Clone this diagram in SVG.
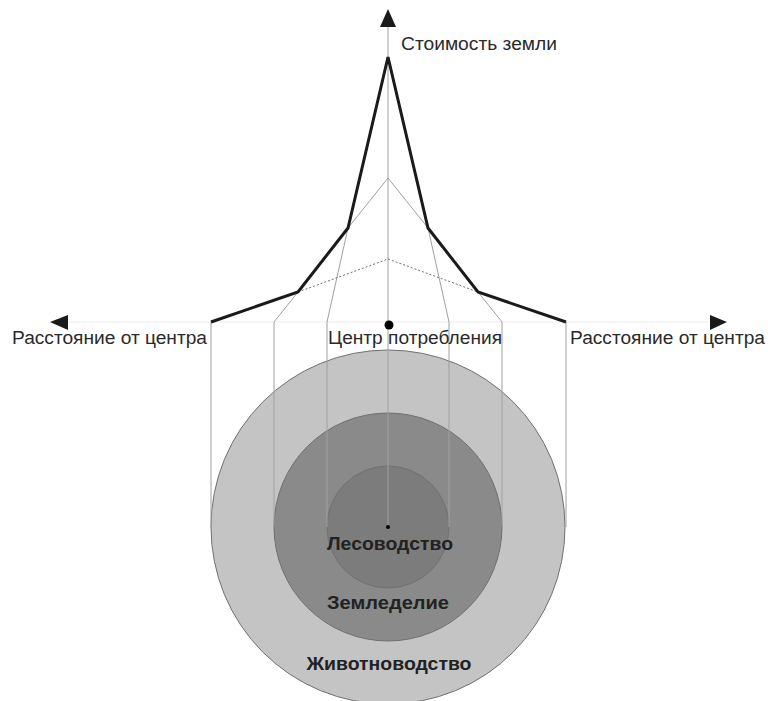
<svg xmlns="http://www.w3.org/2000/svg" width="768" height="701" viewBox="0 0 768 701">
<style>
.thin{fill:none;stroke:#a0a0a0;stroke-width:1}
.dash{fill:none;stroke:#707070;stroke-width:1;stroke-dasharray:2,2}
.bold{fill:none;stroke:#1a1a1a;stroke-width:3;stroke-linejoin:miter}
.circ{stroke:#707070;stroke-width:1}
.lbl{font-family:"Liberation Sans",Arial,sans-serif;font-size:18px;fill:#2a2a2a}
.zone{font-family:"Liberation Sans",Arial,sans-serif;font-size:18px;font-weight:bold;fill:#222;text-anchor:middle}
.arr{fill:#1a1a1a}
</style>
<rect width="768" height="701" fill="#fff"/>
<g id="outer-zone"><circle class="circ" cx="388" cy="527" r="177" fill="#c4c4c4"/></g>
<g id="middle-zone"><circle class="circ" cx="388" cy="527" r="114" fill="#8a8a8a"/></g>
<g id="inner-zone"><circle class="circ" cx="388" cy="527" r="61" fill="#7c7c7c"/></g>
<g id="connectors">
<line x1="68" y1="322" x2="710" y2="322" stroke="#ececec" stroke-width="1"/>
<line x1="388" y1="24" x2="388" y2="527" class="thin" stroke="#888"/>
<polyline class="thin" points="211,527 211,322"/>
<polyline class="thin" points="566,527 566,322"/>
<polyline class="thin" points="274,527 274,322 298,292"/>
<polyline class="thin" points="502,527 502,322 478,292"/>
<polyline class="thin" points="327,527 327,322 348,228 388,178 428,228 449,322 449,527"/>
<polyline class="dash" points="298,292 388,259 478,292"/>
<polyline class="bold" points="211,322 298,292 348,228 388,57 428,228 478,292 566,322"/>
<polygon class="arr" points="388,9 380,27 396,27"/>
<polygon class="arr" points="50,322 68,315 68,330"/>
<polygon class="arr" points="727,322 710,315 710,330"/>
<circle cx="389" cy="325" r="4.5" fill="#000"/>
<circle cx="388" cy="527" r="2" fill="#000"/>
</g>
<g id="labels">
<text class="lbl" x="401" y="50" textLength="156" lengthAdjust="spacingAndGlyphs">Стоимость земли</text>
<text class="lbl" x="12" y="344" textLength="195" lengthAdjust="spacingAndGlyphs">Расстояние от центра</text>
<text class="lbl" x="570" y="344" textLength="195" lengthAdjust="spacingAndGlyphs">Расстояние от центра</text>
<text class="lbl" x="328" y="344" textLength="174" lengthAdjust="spacingAndGlyphs">Центр потребления</text>
<text class="zone" x="390" y="550" textLength="126" lengthAdjust="spacingAndGlyphs">Лесоводство</text>
<text class="zone" x="388" y="609" textLength="122" lengthAdjust="spacingAndGlyphs">Земледелие</text>
<text class="zone" x="389" y="670" textLength="165" lengthAdjust="spacingAndGlyphs">Животноводство</text>
</g>
</svg>
